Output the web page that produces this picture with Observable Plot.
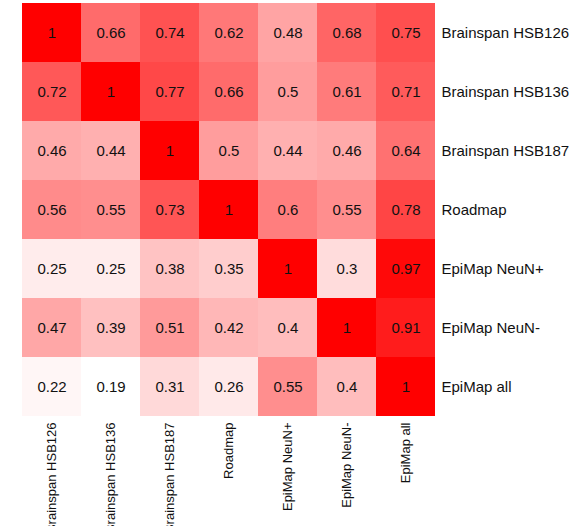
<!DOCTYPE html>
<html>
<head>
<meta charset="utf-8">
<script src="https://cdn.jsdelivr.net/npm/d3@7"></script>
<script src="https://cdn.jsdelivr.net/npm/@observablehq/plot@0.6"></script>
<style>
  html, body { margin: 0; padding: 0; background: #fff; }
  #chart svg { display: block; }
</style>
</head>
<body>
<div id="chart"></div>
<script>
const labels = ["Brainspan HSB126", "Brainspan HSB136", "Brainspan HSB187", "Roadmap", "EpiMap NeuN+", "EpiMap NeuN-", "EpiMap all"];
const rowHSB126 = [1, 0.66, 0.74, 0.62, 0.48, 0.68, 0.75];
const rowHSB136 = [0.72, 1, 0.77, 0.66, 0.5, 0.61, 0.71];
const rowHSB187 = [0.46, 0.44, 1, 0.5, 0.44, 0.46, 0.64];
const rowRoadmap = [0.56, 0.55, 0.73, 1, 0.6, 0.55, 0.78];
const rowNeuNPos = [0.25, 0.25, 0.38, 0.35, 1, 0.3, 0.97];
const rowNeuNNeg = [0.47, 0.39, 0.51, 0.42, 0.4, 1, 0.91];
const rowAll = [0.22, 0.19, 0.31, 0.26, 0.55, 0.4, 1];

const rows = [rowHSB126, rowHSB136, rowHSB187, rowRoadmap, rowNeuNPos, rowNeuNNeg, rowAll];
const data = [];
rows.forEach((r, i) => r.forEach((v, j) => data.push({row: labels[i], col: labels[j], value: v})));
const minV = d3.min(data, d => d.value);

const chart = Plot.plot({
  width: 586,
  height: 526,
  marginLeft: 22,
  marginTop: 3,
  marginRight: 151,
  marginBottom: 110,
  style: {fontFamily: "'Liberation Sans', Arial, Helvetica, sans-serif", background: "#fff"},
  x: {domain: labels, padding: 0, label: null, axis: null},
  y: {domain: labels, padding: 0, label: null, axis: null},
  color: {type: "linear", domain: [minV, 1], range: ["#ffffff", "#ff0000"], interpolate: "rgb"},
  marks: [
    Plot.cell(data, {x: "col", y: "row", fill: "value", inset: 0}),
    Plot.text(data, {x: "col", y: "row", text: d => String(d.value), fill: "#111", fontSize: 15}),
    Plot.axisY({anchor: "right", tickSize: 0, tickPadding: 6, fontSize: 15, fill: "#111", label: null}),
    Plot.axisX({anchor: "bottom", tickSize: 0, tickPadding: 6, tickRotate: -90, fontSize: 13, fill: "#111", label: null})
  ]
});
document.getElementById("chart").appendChild(chart);
</script>
</body>
</html>
